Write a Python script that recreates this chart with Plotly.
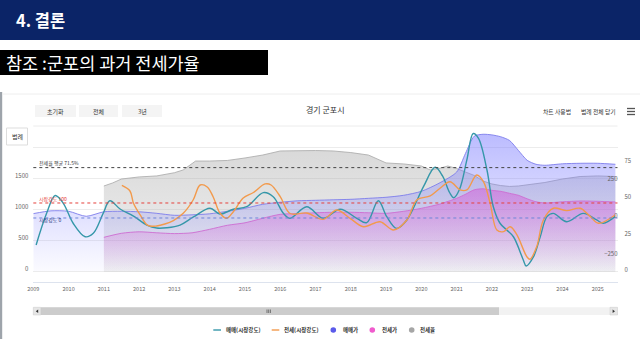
import plotly.graph_objects as go

W, H = 640, 360
FONT = "Noto Sans CJK KR, Noto Sans, sans-serif"

# ---------------- data ----------------
X_TICKS = list(range(2009, 2026))

# 매매가 (left axis)
SALE_PRICE_YEARS = [2009.0, 2009.5, 2010.0, 2010.5, 2011.0, 2011.5, 2012.0, 2012.5, 2013.0, 2013.5,
                    2014.0, 2014.5, 2015.0, 2015.5, 2016.0, 2016.5, 2017.0, 2017.5, 2018.0, 2018.5,
                    2019.0, 2019.5, 2020.0, 2020.5, 2021.0, 2021.25, 2021.5, 2021.75, 2022.0, 2022.25,
                    2022.5, 2022.75, 2023.0, 2023.25, 2023.5, 2024.0, 2024.5, 2025.0, 2025.5]
SALE_PRICE = [930, 975, 968, 887, 960, 968, 960, 935, 903, 911,
              927, 968, 1016, 1080, 1113, 1137, 1145, 1153, 1161, 1177,
              1194, 1226, 1290, 1420, 1600, 1900, 2180, 2210, 2200, 2170,
              2110, 1950, 1790, 1726, 1710, 1734, 1742, 1742, 1726]

# 전세가 (left axis)
JEONSE_PRICE_YEARS = [2011.0, 2011.5, 2012.0, 2012.5, 2013.0, 2013.5, 2014.0, 2014.5, 2015.0, 2015.5,
                      2016.0, 2016.5, 2017.0, 2017.5, 2018.0, 2018.5, 2019.0, 2019.5, 2020.0, 2020.5,
                      2021.0, 2021.25, 2021.5, 2021.75, 2022.0, 2022.25, 2022.5, 2022.75, 2023.0, 2023.25,
                      2023.5, 2024.0, 2024.5, 2025.0, 2025.5]
JEONSE_PRICE = [548, 613, 637, 621, 608, 621, 677, 742, 782, 855,
                919, 931, 944, 952, 952, 944, 935, 968, 1016, 1081,
                1177, 1242, 1315, 1331, 1306, 1290, 1258, 1226, 1169, 1121,
                1102, 1121, 1134, 1129, 1118]

# 전세율 (right axis, %)
JEONSE_RATIO_YEARS = [2011.0, 2011.25, 2011.5, 2012.0, 2012.5, 2013.0, 2013.25, 2013.6, 2014.0, 2014.5,
                      2015.0, 2015.5, 2016.0, 2016.5, 2017.0, 2017.5, 2018.0, 2018.5, 2019.0, 2019.5,
                      2020.0, 2020.25, 2020.5, 2020.75, 2021.0, 2021.25, 2021.5, 2021.75, 2022.0, 2022.25,
                      2022.5, 2022.75, 2023.0, 2023.5, 2024.0, 2024.5, 2025.0, 2025.5]
JEONSE_RATIO = [58.9, 61.0, 63.7, 65.1, 65.8, 68.0, 69.9, 76.0, 76.0, 76.4,
                78.1, 80.1, 82.9, 83.1, 83.2, 82.9, 81.8, 80.1, 74.7, 74.0,
                72.6, 69.9, 70.9, 72.6, 70.9, 68.5, 66.1, 62.3, 60.3, 59.2,
                58.6, 58.9, 59.6, 61.3, 63.7, 65.4, 65.8, 65.4]

# 매매(시장강도) (inner right axis)
SALE_STRENGTH_YEARS = [2009.08, 2009.38, 2009.62, 2009.85, 2010.13, 2010.47, 2010.70, 2010.98, 2011.17, 2011.46,
                       2011.84, 2012.22, 2012.50, 2012.78, 2013.16, 2013.54, 2014.01, 2014.29, 2014.67, 2015.05,
                       2015.52, 2015.80, 2016.09, 2016.28, 2016.75, 2017.22, 2017.70, 2018.17, 2018.45, 2018.78,
                       2019.02, 2019.30, 2019.59, 2020.06, 2020.39, 2020.60, 2020.80, 2020.92, 2021.08, 2021.29,
                       2021.47, 2021.62, 2021.86, 2022.04, 2022.23, 2022.42, 2022.61, 2022.89, 2022.97, 2023.18,
                       2023.37, 2023.56, 2023.74, 2024.12, 2024.59, 2024.97, 2025.16, 2025.49]
SALE_STRENGTH = [-180, 33, 150, 98, -35, -125, -102, 31, 115, 60,
                 13, -47, -67, -65, -47, 7, 65, 27, 58, 75,
                 169, 142, 31, -2, 75, -2, 58, -2, -31, 115,
                 9, -69, -13, 209, 338, 280, 170, 135, 190, 387,
                 563, 531, 320, 75, -35, -80, -125, -280, -320, -258,
                 -125, 9, 31, -25, 31, -13, -35, 9]

# 전세(시장강도) (inner right axis)
JEONSE_STRENGTH_YEARS = [2011.51, 2011.74, 2011.84, 2012.03, 2012.25, 2012.50, 2012.73, 2012.97, 2013.25, 2013.53,
                         2013.73, 2013.93, 2014.10, 2014.29, 2014.48, 2014.67, 2014.95, 2015.24, 2015.57, 2015.74,
                         2016.00, 2016.28, 2016.75, 2017.22, 2017.60, 2017.98, 2018.36, 2018.83, 2019.21, 2019.59,
                         2019.87, 2020.25, 2020.53, 2020.81, 2021.10, 2021.29, 2021.57, 2021.76, 2021.95, 2022.14,
                         2022.33, 2022.52, 2022.71, 2022.99, 2023.08, 2023.27, 2023.46, 2023.74, 2024.12, 2024.50,
                         2024.79, 2025.02, 2025.49]
JEONSE_STRENGTH = [217, 180, 98, 20, -50, -53, -40, -17, 31, 120,
                   220, 207, 140, 33, -2, 42, 133, 170, 227, 220,
                   142, 30, 33, -9, 53, -2, -58, -25, -80, -13,
                   120, 147, 198, 242, 187, 187, 287, 242, 98, -80,
                   -91, -58, -113, -258, -275, -191, -13, 65, 49, 65,
                   9, -35, 20]

PRICE_TICKS = [0, 500, 1000, 1500, 2000]
PRICE_TICK_TEXT = ["0", "500", "1000", "1500", ""]
RATIO_TICKS = [0, 25, 50, 75]
STRENGTH_TICKS = [-250, 0, 250]
RATIO_AVG = 71.5
STRENGTH_HIGH = 100
STRENGTH_ZERO = 0

# ---------------- layout helpers ----------------
def px(x):
    return x / W

def py(y):
    return 1 - y / H

PLOT_L, PLOT_R, PLOT_T, PLOT_B = 33.3, 617.5, 126, 282

fig = go.Figure()

# 전세율 area on the base axis (drawn first, underneath)
fig.add_trace(go.Scatter(
    x=JEONSE_RATIO_YEARS, y=JEONSE_RATIO, name="전세율", mode="lines",
    line=dict(color="rgba(175,175,175,0.9)", width=1),
    fill="tozeroy",
    fillgradient=dict(type="vertical", start=0, stop=max(JEONSE_RATIO),
                      colorscale=[[0, "rgba(165,165,165,0.15)"], [1, "rgba(165,165,165,0.42)"]]),
    yaxis="y", hoverinfo="skip", showlegend=False))

fig.add_trace(go.Scatter(
    x=SALE_PRICE_YEARS, y=SALE_PRICE, name="매매가", mode="lines",
    line=dict(color="rgba(125,125,235,0.9)", width=1, shape="spline", smoothing=0.7),
    fill="tozeroy",
    fillgradient=dict(type="vertical", start=0, stop=max(SALE_PRICE),
                      colorscale=[[0, "rgba(120,120,255,0.03)"], [1, "rgba(120,120,255,0.5)"]]),
    yaxis="y2", hoverinfo="skip", showlegend=False))

fig.add_trace(go.Scatter(
    x=JEONSE_PRICE_YEARS, y=JEONSE_PRICE, name="전세가", mode="lines",
    line=dict(color="rgba(205,110,210,0.9)", width=1, shape="spline", smoothing=0.7),
    fill="tozeroy",
    fillgradient=dict(type="vertical", start=0, stop=max(JEONSE_PRICE),
                      colorscale=[[0, "rgba(215,80,215,0.0)"], [0.35, "rgba(215,80,215,0.18)"],
                                  [1, "rgba(215,80,215,0.48)"]]),
    yaxis="y2", hoverinfo="skip", showlegend=False))

fig.add_trace(go.Scatter(
    x=SALE_STRENGTH_YEARS, y=SALE_STRENGTH, name="매매(시장강도)", mode="lines",
    line=dict(color="#3597a9", width=1.4, shape="spline", smoothing=1),
    yaxis="y3", hoverinfo="skip", showlegend=False))

fig.add_trace(go.Scatter(
    x=JEONSE_STRENGTH_YEARS, y=JEONSE_STRENGTH, name="전세(시장강도)", mode="lines",
    line=dict(color="#f29a4c", width=1.4, shape="spline", smoothing=1),
    yaxis="y3", hoverinfo="skip", showlegend=False))

tickfont = dict(family=FONT, size=6, color="#666666")
SHIFT = -2

fig.update_layout(
    width=W, height=H,
    margin=dict(l=0, r=0, t=0, b=0, pad=0, autoexpand=False),
    paper_bgcolor="white", plot_bgcolor="rgba(0,0,0,0)",
    font=dict(family=FONT, color="#333333"),
    showlegend=False,
    xaxis=dict(domain=[px(PLOT_L), px(PLOT_R)], range=[2009, 2025.56], automargin=False,
               tickvals=X_TICKS, ticktext=[str(v) for v in X_TICKS],
               showgrid=False, zeroline=False, showline=True, linecolor="#dde3ee", linewidth=1,
               ticks="", ticklabelstandoff=1,
               tickfont=dict(family=FONT, size=5.5, color="#666666")),
    # 전세율 axis (outer right)
    yaxis=dict(domain=[py(PLOT_B), py(PLOT_T)], side="right", range=[-6.85, 100], automargin=False,
               tickvals=RATIO_TICKS, showgrid=False, zeroline=False, ticks="",
               tickfont=tickfont, ticklabelshift=SHIFT, ticklabelstandoff=6),
    # price axis (left)
    yaxis2=dict(overlaying="y", side="left", range=[-172.6, 2343.5], automargin=False,
                tickvals=PRICE_TICKS, ticktext=PRICE_TICK_TEXT,
                showgrid=True, gridcolor="#ececec", gridwidth=1, zeroline=False,
                ticks="", tickfont=tickfont, ticklabelshift=SHIFT, ticklabelstandoff=4),
    # 시장강도 axis (inner right)
    yaxis3=dict(overlaying="y", side="right", range=[-426.7, 613.3], automargin=False,
                tickvals=STRENGTH_TICKS, ticklabelposition="inside",
                showgrid=False, zeroline=False, ticks="",
                tickfont=tickfont, ticklabelshift=SHIFT, ticklabelstandoff=-3),
)

shapes = []
annotations = []

# header bar and subtitle box
shapes.append(dict(type="rect", xref="paper", yref="paper", x0=0, x1=1, y0=py(40), y1=1,
                   fillcolor="#0b2467", line=dict(width=0), layer="below"))
annotations.append(dict(xref="paper", yref="paper", x=px(14), y=py(20), xanchor="left", yanchor="middle",
                        text="<b>4. 결론</b>", showarrow=False,
                        font=dict(family=FONT, size=16.5, color="white")))
shapes.append(dict(type="rect", xref="paper", yref="paper", x0=0, x1=px(268), y0=py(75), y1=py(50),
                   fillcolor="#000000", line=dict(width=0), layer="below"))
annotations.append(dict(xref="paper", yref="paper", x=px(3.5), y=py(62.5), xanchor="left", yanchor="middle",
                        text="참조 :군포의 과거 전세가율", showarrow=False,
                        font=dict(family=FONT, size=17.5, color="white")))

# chart screenshot frame
shapes.append(dict(type="rect", xref="paper", yref="paper", x0=0, x1=px(2.2), y0=py(339), y1=py(92),
                   fillcolor="#9ea4ab", line=dict(width=0)))
shapes.append(dict(type="line", xref="paper", yref="paper", x0=px(2), x1=1, y0=py(94), y1=py(94),
                   line=dict(color="#eeeeee", width=1)))

# buttons
for label, x0, x1 in [("초기화", 35, 76), ("전체", 79, 118), ("3년", 122, 162)]:
    shapes.append(dict(type="rect", xref="paper", yref="paper", x0=px(x0), x1=px(x1), y0=py(117), y1=py(105),
                       fillcolor="#f4f4f4", line=dict(width=0)))
    annotations.append(dict(xref="paper", yref="paper", x=px((x0 + x1) / 2), y=py(111), xanchor="center",
                            yanchor="middle", text=label, showarrow=False,
                            font=dict(family=FONT, size=6, color="#333333")))
annotations.append(dict(xref="paper", yref="paper", x=px(325), y=py(109.5), xanchor="center", yanchor="middle",
                        text="경기 군포시", showarrow=False, font=dict(family=FONT, size=8, color="#333333")))
annotations.append(dict(xref="paper", yref="paper", x=px(556.5), y=py(111.5), xanchor="center", yanchor="middle",
                        text="차트 사용법", showarrow=False, font=dict(family=FONT, size=5.8, color="#333333")))
annotations.append(dict(xref="paper", yref="paper", x=px(598.5), y=py(111.5), xanchor="center", yanchor="middle",
                        text="범례 전체 닫기", showarrow=False, font=dict(family=FONT, size=5.8, color="#333333")))
for yy in (108.5, 111.5, 114.5):
    shapes.append(dict(type="line", xref="paper", yref="paper", x0=px(627), x1=px(635), y0=py(yy), y1=py(yy),
                       line=dict(color="#555555", width=1.3)))
shapes.append(dict(type="rect", xref="paper", yref="paper", x0=px(6.5), x1=px(27.5), y0=py(145), y1=py(128),
                   fillcolor="white", line=dict(color="#dddddd", width=1)))
annotations.append(dict(xref="paper", yref="paper", x=px(17), y=py(136.5), xanchor="center", yanchor="middle",
                        text="범례", showarrow=False, font=dict(family=FONT, size=6, color="#333333")))

# plot top border line
shapes.append(dict(type="line", xref="paper", yref="paper", x0=px(PLOT_L), x1=px(PLOT_R),
                   y0=py(PLOT_T), y1=py(PLOT_T), line=dict(color="#ececec", width=1), layer="below"))

# reference plot lines
shapes.append(dict(type="line", xref="paper", yref="y", x0=px(PLOT_L), x1=px(PLOT_R),
                   y0=RATIO_AVG, y1=RATIO_AVG, line=dict(color="#444444", width=1, dash="dot")))
shapes.append(dict(type="line", xref="paper", yref="y3", x0=px(PLOT_L), x1=px(PLOT_R),
                   y0=STRENGTH_HIGH, y1=STRENGTH_HIGH, line=dict(color="#e5413c", width=1, dash="dot")))
shapes.append(dict(type="line", xref="paper", yref="y3", x0=px(PLOT_L), x1=px(PLOT_R),
                   y0=STRENGTH_ZERO, y1=STRENGTH_ZERO, line=dict(color="#6d84d8", width=1, dash="dot")))
annotations.append(dict(xref="paper", yref="y", x=px(38), y=RATIO_AVG, xanchor="left", yanchor="bottom",
                        text=f"전세율 평균 {RATIO_AVG}%", showarrow=False, borderpad=0,
                        font=dict(family=FONT, size=5, color="#333333")))
annotations.append(dict(xref="paper", yref="y3", x=px(38), y=STRENGTH_HIGH, xanchor="left", yanchor="bottom",
                        text=f"시장강도 {STRENGTH_HIGH}", showarrow=False, borderpad=0,
                        font=dict(family=FONT, size=5, color="#e5413c")))
annotations.append(dict(xref="paper", yref="y3", x=px(38), y=STRENGTH_ZERO, xanchor="left", yanchor="middle",
                        yshift=-1.5, text=f"시장강도 {STRENGTH_ZERO}", showarrow=False, borderpad=0,
                        font=dict(family=FONT, size=5, color="#2b3a80")))

# scrollbar
SB_T, SB_B = 307.3, 315
shapes.append(dict(type="rect", xref="paper", yref="paper", x0=px(PLOT_L), x1=px(PLOT_R), y0=py(SB_B), y1=py(SB_T),
                   fillcolor="#f2f2f2", line=dict(width=0)))
shapes.append(dict(type="rect", xref="paper", yref="paper", x0=px(40.7), x1=px(499), y0=py(SB_B), y1=py(SB_T),
                   fillcolor="#cccccc", line=dict(width=0)))
for x0, x1 in [(PLOT_L, 40.7), (610, PLOT_R)]:
    shapes.append(dict(type="rect", xref="paper", yref="paper", x0=px(x0), x1=px(x1), y0=py(SB_B), y1=py(SB_T),
                       fillcolor="#e6e6e6", line=dict(color="#cccccc", width=0.5)))
shapes.append(dict(type="path", xref="paper", yref="paper",
                   path=f"M {px(38.2)} {py(309.5)} L {px(35.8)} {py(311.2)} L {px(38.2)} {py(312.9)} Z",
                   fillcolor="#333333", line=dict(width=0)))
shapes.append(dict(type="path", xref="paper", yref="paper",
                   path=f"M {px(612.6)} {py(309.5)} L {px(615)} {py(311.2)} L {px(612.6)} {py(312.9)} Z",
                   fillcolor="#333333", line=dict(width=0)))
for gx in (267, 268.7, 270.4):
    shapes.append(dict(type="line", xref="paper", yref="paper", x0=px(gx), x1=px(gx), y0=py(309.5), y1=py(313),
                       line=dict(color="#333333", width=0.6)))

# legend (manual)
LEG_Y = 330
legend_lines = [("매매(시장강도)", "#3597a9", 213.3, 221, 223.5), ("전세(시장강도)", "#f29a4c", 271.7, 279.3, 282)]
for text, col, x0, x1, tx in legend_lines:
    shapes.append(dict(type="line", xref="paper", yref="paper", x0=px(x0), x1=px(x1), y0=py(LEG_Y), y1=py(LEG_Y),
                       line=dict(color=col, width=1.4)))
    annotations.append(dict(xref="paper", yref="paper", x=px(tx), y=py(LEG_Y), xanchor="left", yanchor="middle",
                            text=f"<b>{text}</b>", showarrow=False, font=dict(family=FONT, size=5.5, color="#333333")))
legend_dots = [("매매가", "#5b5bea", 333.3, 340.5), ("전세가", "#f05ccd", 372.3, 379.5), ("전세율", "#a6a6a6", 411.7, 418)]
for text, col, cx, tx in legend_dots:
    shapes.append(dict(type="circle", xref="paper", yref="paper", x0=px(cx - 2.8), x1=px(cx + 2.8),
                       y0=py(LEG_Y + 2.8), y1=py(LEG_Y - 2.8), fillcolor=col, line=dict(width=0)))
    annotations.append(dict(xref="paper", yref="paper", x=px(tx), y=py(LEG_Y), xanchor="left", yanchor="middle",
                            text=f"<b>{text}</b>", showarrow=False, font=dict(family=FONT, size=5.5, color="#333333")))

fig.update_layout(shapes=shapes, annotations=annotations)

fig.write_html("out.html", config={"displayModeBar": False},
               post_script="document.body.style.margin='0';document.body.style.overflow='hidden';")
